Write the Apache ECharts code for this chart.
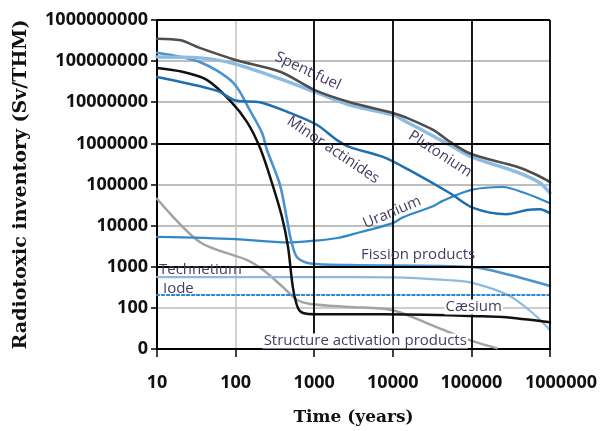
<!DOCTYPE html>
<html>
<head>
<meta charset="utf-8">
<script src="https://cdn.jsdelivr.net/npm/echarts@6/dist/echarts.min.js"></script>
<style>
  html, body { margin: 0; padding: 0; background: #fff; }
  #chart { width: 602px; height: 431px; }
</style>
</head>
<body>
<div id="chart"></div>
<script>
// Tick labels (decades)
const xTickLabels = ['10', '100', '1000', '10000', '100000', '1000000'];
const yTickLabels = ['0', '100', '1000', '10000', '100000', '1000000', '10000000', '100000000', '1000000000'];

// Radiotoxic inventory [time in years, Sv/THM]
const spentFuel = [[10, 3.5e8], [20, 3.2e8], [35, 2.1e8], [100, 1.07e8], [370, 5.5e7], [1000, 2.0e7], [2850, 1.0e7], [10000, 5.5e6], [15000, 4.2e6], [33000, 2.1e6], [53000, 1.1e6], [100000, 5.5e5], [380000, 2.7e5], [680000, 1.7e5], [1000000, 1.15e5]];
const plutonium = [[10, 1.26e8], [35, 1.2e8], [100, 8.5e7], [400, 3.5e7], [1000, 1.8e7], [2850, 8.5e6], [10000, 4.9e6], [15000, 3.3e6], [33000, 1.5e6], [53000, 9.1e5], [100000, 4.7e5], [380000, 2.0e5], [740000, 1.1e5], [1000000, 6.2e4]];
const fissionProducts = [[10, 1.6e8], [35, 9.5e7], [93, 3.0e7], [151, 6.5e6], [217, 1.8e6], [251, 6.9e5], [367, 9.8e4], [451, 1.4e4], [507, 4.5e3], [605, 1.7e3], [890, 1.2e3], [2850, 1.1e3], [100000, 990], [310000, 630], [1000000, 340]];
const minorActinides = [[10, 4.1e7], [58, 1.9e7], [100, 1.1e7], [204, 1.0e7], [492, 5.5e6], [1090, 2.8e6], [1950, 1.2e6], [2850, 8.1e5], [7500, 4.7e5], [16500, 2.2e5], [53000, 6.2e4], [105000, 2.7e4], [280000, 1.9e4], [510000, 2.4e4], [740000, 2.5e4], [1000000, 2.0e4]];
const caesium = [[10, 6.8e7], [21, 5.5e7], [43, 3.5e7], [85, 1.1e7], [140, 3.3e6], [205, 7.7e5], [290, 1.1e5], [390, 1.6e4], [465, 3.0e3], [535, 320], [620, 100], [720, 75], [1090, 70], [7500, 70], [140000, 63], [250000, 60], [1000000, 45]];
const uranium = [[10, 5300], [100, 4700], [450, 3900], [1000, 4300], [2000, 5000], [3800, 6900], [10000, 1.15e4], [13500, 1.6e4], [33000, 3.0e4], [43000, 4.0e4], [100000, 7.4e4], [250000, 8.7e4], [480000, 6.2e4], [1000000, 3.5e4]];
const technetium = [[10, 560], [1000, 560], [10000, 550], [53000, 470], [100000, 410], [300000, 200], [600000, 75], [1000000, 29]];
const iode = [[10, 205], [1000000, 205]];
const structureActivation = [[10, 4.5e4], [35, 4.0e3], [140, 1.45e3], [225, 830], [400, 320], [610, 155], [890, 125], [2850, 105], [10000, 88], [36000, 34], [95000, 16.5], [210000, 10.5]];

// Curve names written along the curves, anchored in data space
const curveNotes = [
  { text: 'Spent fuel', at: [830, 5.7e7], angle: -25 },
  { text: 'Minor actinides', at: [1740, 6.9e5], angle: -34 },
  { text: 'Plutonium', at: [40000, 5.5e5], angle: -33 },
  { text: 'Uranium', at: [9800, 2.1e4], angle: 23 },
  { text: 'Fission products', at: [21000, 1950], angle: 0 },
  { text: 'Technetium', at: [10.6, 830], angle: 0, left: true },
  { text: 'Iode', at: [11.9, 300], angle: 0, left: true },
  { text: 'Cæsium', at: [107000, 105], angle: 0, box: true },
  { text: 'Structure activation products', at: [4460, 15.6], angle: 0, box: true }
];

const noteColor = '#443d62';
const black = '#000000';

function line(name, data, color, width, type) {
  return {
    name, type: 'line', data,
    showSymbol: false, symbol: 'none',
    smooth: 0.3,
    lineStyle: { color, width, type: type || 'solid', cap: 'round', join: 'round' },
    silent: true
  };
}

const chart = echarts.init(document.getElementById('chart'), null, { renderer: 'canvas' });

const series = [
  line('Structure activation products', structureActivation, '#a3a3a3', 2.5),
  line('Technetium', technetium, '#8fb9df', 2.2),
  line('Iode', iode, '#2f86c8', 2, [2.5, 2.5]),
  line('Uranium', uranium, '#2f88c8', 2.2),
  line('Fission products', fissionProducts, '#4a93d0', 2.6),
  line('Cæsium', caesium, '#111111', 2.5),
  line('Minor actinides', minorActinides, '#1d6fb0', 2.5),
  line('Plutonium', plutonium, '#8dbbe2', 3.4),
  line('Spent fuel', spentFuel, '#4e4e4e', 2.6)
];

// Heavy reference lines of the grid
series[0].markLine = {
  silent: true, symbol: ['none', 'none'], animation: false,
  label: { show: false },
  lineStyle: { color: black, width: 1.8, type: 'solid' },
  emphasis: { disabled: true },
  data: [
    { yAxis: 1000 }, { yAxis: 1e6 }, { yAxis: 1e9 },
    { xAxis: 1000 }, { xAxis: 10000 }, { xAxis: 100000 }, { xAxis: 1000000 }
  ]
};

const lastX = xTickLabels.length - 1;

chart.setOption({
  animation: false,
  backgroundColor: '#ffffff',
  grid: { left: 157, right: 52, top: 20, bottom: 82, containLabel: false },
  xAxis: {
    type: 'log', logBase: 10, min: 10, max: 1000000,
    name: 'Time (years)', nameLocation: 'middle', nameGap: 60,
    nameTextStyle: { fontFamily: 'DejaVu Serif', fontWeight: 'bold', fontSize: 17, color: '#111' },
    axisLine: { show: true, onZero: false, lineStyle: { color: black, width: 2 } },
    axisTick: { show: true, inside: false, length: 8, lineStyle: { color: black, width: 1.5 } },
    axisLabel: {
      margin: 25, color: '#111', fontFamily: 'Open Sans', fontWeight: 'bold', fontSize: 18,
      formatter: v => {
        const i = Math.round(Math.log10(v)) - 1;
        return i === lastX ? '{edge|' + xTickLabels[i] + '}' : xTickLabels[i];
      },
      rich: {
        edge: { padding: [0, 0, 0, 22], color: '#111', fontFamily: 'Open Sans', fontWeight: 'bold', fontSize: 18 }
      }
    },
    splitLine: { show: true, lineStyle: { color: ['transparent', '#c6c6c6', 'transparent', 'transparent', 'transparent', 'transparent'], width: 1.6 } },
    minorTick: { show: false }, minorSplitLine: { show: false }
  },
  yAxis: {
    type: 'log', logBase: 10, min: 10, max: 1e9,
    name: 'Radiotoxic inventory (Sv/THM)', nameLocation: 'middle', nameGap: 126, nameRotate: 90,
    nameTextStyle: { fontFamily: 'DejaVu Serif', fontWeight: 'bold', fontSize: 19, color: '#111' },
    axisLine: { show: true, onZero: false, lineStyle: { color: black, width: 2 } },
    axisTick: { show: true, inside: false, length: 6, lineStyle: { color: black, width: 1.5 } },
    axisLabel: {
      margin: 9, color: '#111', fontFamily: 'Open Sans', fontWeight: 'bold', fontSize: 18,
      formatter: v => yTickLabels[Math.round(Math.log10(v)) - 1]
    },
    splitLine: { show: true, lineStyle: { color: ['transparent', '#bdbdbd', 'transparent', '#a8a8a8', '#a8a8a8', 'transparent', '#a8a8a8', '#a8a8a8', 'transparent'], width: 1.6 } },
    minorTick: { show: false }, minorSplitLine: { show: false }
  },
  series
});

// Place curve names from their data-space anchors
const graphics = curveNotes.map(n => {
  const p = chart.convertToPixel({ gridIndex: 0 }, n.at);
  return {
    type: 'text', x: p[0], y: p[1], rotation: n.angle * Math.PI / 180, z: 50, silent: true,
    style: {
      text: n.text, fill: noteColor,
      font: '15px "Open Sans"',
      align: n.left ? 'left' : 'center', verticalAlign: 'middle',
      backgroundColor: n.box ? '#ffffff' : undefined,
      padding: n.box ? [0, 1] : 0
    }
  };
});
chart.setOption({ graphic: graphics });
</script>
</body>
</html>
